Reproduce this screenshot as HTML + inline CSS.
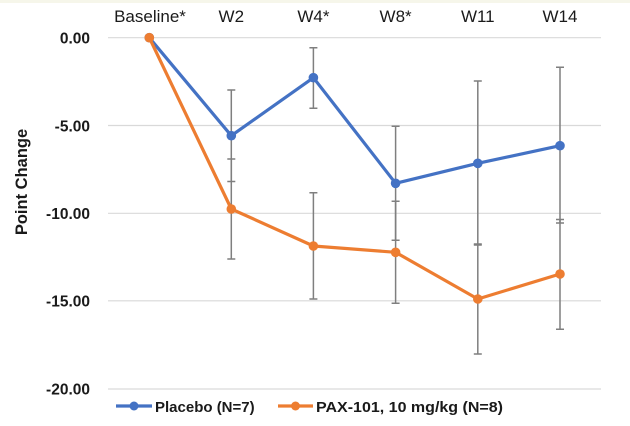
<!DOCTYPE html>
<html>
<head>
<meta charset="utf-8">
<style>
html,body{margin:0;padding:0;background:#fff;}
svg{display:block;}
text{font-family:"Liberation Sans",Arial,sans-serif;}
</style>
</head>
<body>
<svg width="630" height="426" viewBox="0 0 630 426" xmlns="http://www.w3.org/2000/svg">
<rect x="0" y="0" width="630" height="426" fill="#ffffff"/>
<rect x="0" y="0" width="630" height="3" fill="#f6f6ea"/>

<!-- gridlines -->
<g stroke="#d9d9d9" stroke-width="1.2">
<line x1="108" y1="37.7" x2="601" y2="37.7"/>
<line x1="108" y1="125.5" x2="601" y2="125.5"/>
<line x1="108" y1="213.3" x2="601" y2="213.3"/>
<line x1="108" y1="300.8" x2="601" y2="300.8"/>
<line x1="108" y1="389" x2="601" y2="389"/>
</g>

<!-- y tick labels -->
<g font-size="15.5" font-weight="bold" fill="#1a1a1a" text-anchor="end">
<text x="90" y="43.5">0.00</text>
<text x="90" y="131.3">-5.00</text>
<text x="90" y="219">-10.00</text>
<text x="90" y="306.5">-15.00</text>
<text x="90" y="394.5">-20.00</text>
</g>

<!-- y axis title -->
<text transform="translate(27,182) rotate(-90)" text-anchor="middle" font-size="16.5" font-weight="bold" fill="#1a1a1a">Point Change</text>

<!-- category labels -->
<g font-size="17" fill="#1a1a1a" text-anchor="middle">
<text x="150" y="22">Baseline*</text>
<text x="231.3" y="22">W2</text>
<text x="313.4" y="22">W4*</text>
<text x="395.6" y="22">W8*</text>
<text x="477.8" y="22">W11</text>
<text x="560" y="22">W14</text>
</g>

<!-- error bars -->
<g stroke="#7f7f7f" stroke-width="1.5" fill="none">
<path d="M231.3 90 V181.5 M227.3 90 H235.3 M227.3 181.5 H235.3"/>
<path d="M313.4 47.7 V108.3 M309.4 47.7 H317.4 M309.4 108.3 H317.4"/>
<path d="M395.6 126.3 V240.3 M391.6 126.3 H399.6 M391.6 240.3 H399.6"/>
<path d="M477.8 81 V245 M473.8 81 H481.8 M473.8 245 H481.8"/>
<path d="M560 67.3 V223 M556 67.3 H564 M556 223 H564"/>
<path d="M231.3 159 V259 M227.3 159 H235.3 M227.3 259 H235.3"/>
<path d="M313.4 192.7 V299 M309.4 192.7 H317.4 M309.4 299 H317.4"/>
<path d="M395.6 201.3 V303.3 M391.6 201.3 H399.6 M391.6 303.3 H399.6"/>
<path d="M477.8 244 V354 M473.8 244 H481.8 M473.8 354 H481.8"/>
<path d="M560 219.5 V329.3 M556 219.5 H564 M556 329.3 H564"/>
</g>

<!-- placebo series -->
<polyline points="149.3,37.7 231.3,135.7 313.4,77.7 395.6,183.3 477.8,163.3 560,145.7" fill="none" stroke="#4472c4" stroke-width="3.2" stroke-linejoin="round"/>
<g fill="#4472c4">
<circle cx="149.3" cy="37.7" r="4.8"/>
<circle cx="231.3" cy="135.7" r="4.8"/>
<circle cx="313.4" cy="77.7" r="4.8"/>
<circle cx="395.6" cy="183.3" r="4.8"/>
<circle cx="477.8" cy="163.3" r="4.8"/>
<circle cx="560" cy="145.7" r="4.8"/>
</g>

<!-- PAX series -->
<polyline points="149.3,37.7 231.3,209 313.4,246 395.6,252.3 477.8,299 560,274" fill="none" stroke="#ed7d31" stroke-width="3.2" stroke-linejoin="round"/>
<g fill="#ed7d31">
<circle cx="149.3" cy="37.7" r="4.8"/>
<circle cx="231.3" cy="209" r="4.8"/>
<circle cx="313.4" cy="246" r="4.8"/>
<circle cx="395.6" cy="252.3" r="4.8"/>
<circle cx="477.8" cy="299" r="4.8"/>
<circle cx="560" cy="274" r="4.8"/>
</g>

<!-- legend -->
<line x1="116" y1="406" x2="152" y2="406" stroke="#4472c4" stroke-width="3.2"/>
<circle cx="134" cy="406" r="4.5" fill="#4472c4"/>
<text x="155" y="412" font-size="15" font-weight="bold" fill="#1a1a1a">Placebo (N=7)</text>

<line x1="278" y1="406" x2="313" y2="406" stroke="#ed7d31" stroke-width="3.2"/>
<circle cx="295.5" cy="406" r="4.5" fill="#ed7d31"/>
<text x="316" y="412" font-size="15" font-weight="bold" fill="#1a1a1a" textLength="187" lengthAdjust="spacingAndGlyphs">PAX-101, 10 mg/kg (N=8)</text>
</svg>
</body>
</html>
